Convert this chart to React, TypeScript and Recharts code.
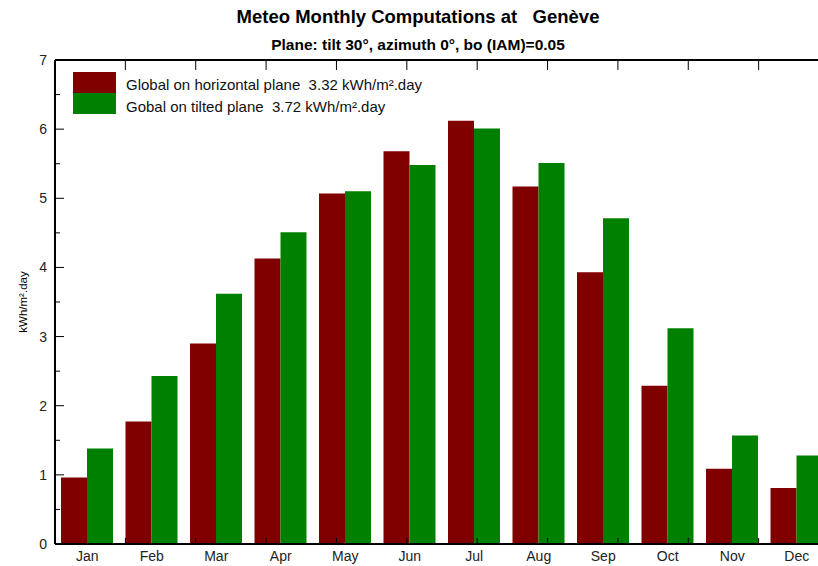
import { BarChart, Bar, XAxis, YAxis } from 'recharts';

const months = ['Jan', 'Feb', 'Mar', 'Apr', 'May', 'Jun', 'Jul', 'Aug', 'Sep', 'Oct', 'Nov', 'Dec'];
const globalHoriz = [0.96, 1.77, 2.9, 4.13, 5.07, 5.68, 6.12, 5.17, 3.93, 2.29, 1.09, 0.81];
const globalTilted = [1.38, 2.43, 3.62, 4.51, 5.1, 5.48, 6.01, 5.51, 4.71, 3.12, 1.57, 1.28];
const yTicks = [0, 0.5, 1, 1.5, 2, 2.5, 3, 3.5, 4, 4.5, 5, 5.5, 6, 6.5, 7];
const boundaryTicks = [1, 2, 3, 4, 5, 6, 7, 8, 9, 10, 11];

const seriesNames = [
  'Global on horizontal plane  3.32 kWh/m².day',
  'Gobal on tilted plane  3.72 kWh/m².day',
];

const data = months.map((m, i) => ({ month: m, horiz: globalHoriz[i], tilted: globalTilted[i] }));

const FONT = '"Liberation Sans", Arial, sans-serif';
const RED = '#800000';
const GREEN = '#008000';

// y ticks drawn inward, labels only on whole numbers
const YTick = (props: any) => {
  const { x, y, payload } = props;
  const axisX = x + 8;
  const major = Number.isInteger(payload.value);
  return (
    <g>
      <line x1={axisX} x2={axisX + (major ? 9 : 5)} y1={y} y2={y} stroke="#000" strokeWidth={1} />
      {major && (
        <text x={x} y={y} dy={5} textAnchor="end" fontSize={14} fontFamily={FONT} fill="#222">
          {payload.value}
        </text>
      )}
    </g>
  );
};

const TopTick = (props: any) => {
  const { x, y } = props;
  return <line x1={x} x2={x} y1={y} y2={y + 10} stroke="#000" strokeWidth={1} />;
};

const BottomTick = (props: any) => {
  const { x, y } = props;
  return <line x1={x} x2={x} y1={y} y2={y - 6} stroke="#000" strokeWidth={1} />;
};

export default function App() {
  return (
    <div style={{ position: 'fixed', left: 0, top: 0, width: 818, height: 566, overflow: 'hidden', background: '#fff' }}>
      <div style={{ position: 'absolute', left: 0, width: 836, top: 6, textAlign: 'center', fontFamily: FONT, fontWeight: 'bold', fontSize: 18.5, color: '#000', whiteSpace: 'pre' }}>
        Meteo Monthly Computations at   Genève
      </div>
      <div style={{ position: 'absolute', left: 0, width: 836, top: 36, textAlign: 'center', fontFamily: FONT, fontWeight: 'bold', fontSize: 15.5, color: '#000' }}>
        Plane: tilt 30°, azimuth 0°, bo (IAM)=0.05
      </div>
      <BarChart
        width={840}
        height={566}
        data={data}
        margin={{ top: 59, right: 11, left: 25, bottom: 0 }}
        barCategoryGap={6}
        barGap={0}
      >
        <XAxis
          xAxisId="top"
          orientation="top"
          type="number"
          domain={[0, 12]}
          ticks={boundaryTicks}
          height={1}
          tickSize={0}
          tickMargin={0}
          tick={<TopTick />}
          tickLine={false}
          axisLine={{ stroke: '#000', strokeWidth: 2 }}
          allowDataOverflow
        />
        <XAxis
          xAxisId="bot"
          orientation="bottom"
          type="number"
          domain={[0, 12]}
          ticks={boundaryTicks}
          height={1}
          tickSize={0}
          tickMargin={0}
          tick={<BottomTick />}
          tickLine={false}
          mirror
          axisLine={{ stroke: '#000', strokeWidth: 2 }}
          allowDataOverflow
        />
        <XAxis
          xAxisId="month"
          dataKey="month"
          height={22}
          tickSize={0}
          tickMargin={7}
          axisLine={false}
          tickLine={false}
          tick={{ fontSize: 14, fontFamily: FONT, fill: '#222' }}
          interval={0}
        />
        <YAxis
          width={30}
          domain={[0, 7]}
          ticks={yTicks}
          interval={0}
          tickSize={0}
          tickMargin={8}
          tickLine={false}
          tick={<YTick />}
          stroke="#000"
          strokeWidth={2}
          axisLine={{ stroke: '#000', strokeWidth: 2 }}
          label={{ value: 'kWh/m².day', angle: -90, position: 'insideLeft', offset: -2, style: { textAnchor: 'middle', fontSize: 11.5, fontFamily: FONT, fill: '#000' } }}
        />
        <Bar xAxisId="month" dataKey="horiz" name={seriesNames[0]} fill={RED} isAnimationActive={false} />
        <Bar xAxisId="month" dataKey="tilted" name={seriesNames[1]} fill={GREEN} isAnimationActive={false} />
      </BarChart>
      <div style={{ position: 'absolute', left: 73, top: 72, fontFamily: FONT, fontSize: 15, color: '#111' }}>
        {seriesNames.map((name, i) => (
          <div key={name} style={{ display: 'flex', alignItems: 'center', height: 21 }}>
            <div style={{ width: 43, height: 21, background: i === 0 ? RED : GREEN }} />
            <span style={{ marginLeft: 10, whiteSpace: 'pre', position: 'relative', top: i === 0 ? 2 : 3 }}>{name}</span>
          </div>
        ))}
      </div>
    </div>
  );
}
